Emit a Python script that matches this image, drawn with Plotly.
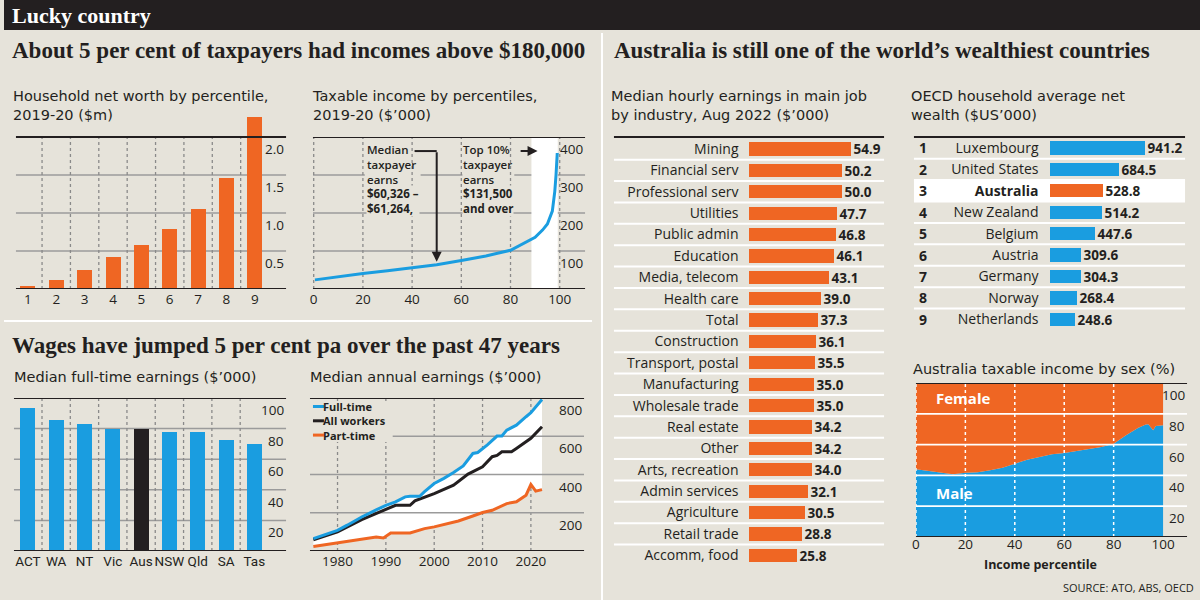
import plotly.graph_objects as go

W, H = 1200, 600
BG = "#e6e3da"
DARK = "#231f20"
ORANGE = "#ef6623"
BLUE = "#1a9de0"
GRID = "#9b9b9b"
WHITE = "#ffffff"
SERIF = "Liberation Serif"
SANS = "Open Sans"
NARROW = "Roboto"
WIDE = "DejaVu Sans"

# ---------------- data ----------------
networth_decile = [1, 2, 3, 4, 5, 6, 7, 8, 9]
networth_m = [0.03, 0.11, 0.25, 0.41, 0.58, 0.79, 1.05, 1.45, 2.26]
networth_ticks = [0.5, 1.0, 1.5, 2.0]

income_pct = [0.5, 10, 20, 30, 40, 50, 60, 70, 80, 85, 90, 93, 95, 97, 98, 98.5, 99]
income_k = [24, 33, 41, 48, 56, 64, 75, 87, 102, 118, 136, 155, 171, 205, 257, 300, 358]
income_ticks = [100, 200, 300, 400]
pct_ticks = [0, 20, 40, 60, 80, 100]

states = ["ACT", "WA", "NT", "Vic", "Aus", "NSW", "Qld", "SA", "Tas"]
fulltime_k = [93.4, 85.8, 83.2, 79.9, 79.6, 78.1, 77.9, 72.6, 70.0]
fulltime_ticks = [20, 40, 60, 80, 100]

ft_years = [1975, 1977, 1980, 1982, 1985, 1988, 1990, 1992, 1994, 1995, 1997, 1998, 2000,
            2002, 2004, 2006, 2008, 2009, 2011, 2013, 2014, 2015, 2017, 2019, 2020, 2022.3]
ft_vals = [65, 82, 108, 135, 178, 215, 239, 257, 283, 286, 286, 310, 353,
           380, 410, 445, 510, 515, 555, 601, 601, 632, 658, 702, 723, 792]
aw_years = [1975, 1980, 1985, 1990, 1992, 1995, 1996, 2000, 2004, 2007, 2010, 2012, 2013,
            2014, 2016, 2017, 2019, 2020, 2022.3]
aw_vals = [59, 100, 164, 217, 239, 239, 262, 300, 344, 402, 440, 493, 500,
           519, 519, 536, 571, 589, 650]
pt_years = [1975, 1980, 1985, 1988, 1989.5, 1991, 1995, 1998, 2000, 2003, 2005, 2008, 2010,
            2012, 2015, 2017, 2019, 2020, 2021, 2022.3]
pt_vals = [24, 42, 59, 73, 68, 94, 94, 117, 126, 147, 157, 183, 201,
           213, 248, 257, 292, 348, 313, 321]
annual_ticks = [200, 400, 600, 800]
year_ticks = [1980, 1990, 2000, 2010, 2020]
series_names = ["Full-time", "All workers", "Part-time"]

industries = ["Mining", "Financial serv", "Professional serv", "Utilities", "Public admin",
              "Education", "Media, telecom", "Health care", "Total", "Construction",
              "Transport, postal", "Manufacturing", "Wholesale trade", "Real estate", "Other",
              "Arts, recreation", "Admin services", "Agriculture", "Retail trade", "Accomm, food"]
hourly = [54.9, 50.2, 50.0, 47.7, 46.8, 46.1, 43.1, 39.0, 37.3, 36.1,
          35.5, 35.0, 35.0, 34.2, 34.2, 34.0, 32.1, 30.5, 28.8, 25.8]

countries = ["Luxembourg", "United States", "Australia", "New Zealand", "Belgium",
             "Austria", "Germany", "Norway", "Netherlands"]
ranks = ["1", "2", "3", "4", "5", "6", "7", "8", "9"]
wealth = [941.2, 684.5, 528.8, 514.2, 447.6, 309.6, 304.3, 268.4, 248.6]

sex_pct = [0, 5, 10, 15, 20, 25, 30, 35, 40, 45, 50, 55, 60, 65, 70, 75, 80, 85, 90, 93, 94, 96, 97, 100]
male_share = [44.0, 42.9, 41.8, 40.7, 41.8, 42.0, 43.3, 45.0, 47.6, 50.2, 52.0, 53.7, 54.5,
              55.6, 57.1, 58.4, 60.6, 66.0, 71.0, 73.0, 73.2, 69.3, 72.0, 72.5]
female_share = [100 - m for m in male_share]
sex_ticks = [20, 40, 60, 80, 100]

# ---------------- helpers ----------------
fig = go.Figure()
shapes, annots = [], []


def refs(n):
    return ("x" if n == 1 else f"x{n}"), ("y" if n == 1 else f"y{n}")


def set_axes(n, xpx, ypx, xr, yr, xkw=None, ykw=None):
    xa, ya = refs(n)
    base = dict(showgrid=False, zeroline=False, showline=False, ticks="", fixedrange=True,
                tickfont=dict(family=SANS, size=13.5, color=DARK))
    xd = dict(base, domain=[xpx[0] / W, xpx[1] / W], range=xr, anchor=ya, showticklabels=False,
              tickangle=0)
    yd = dict(base, domain=[1 - ypx[1] / H, 1 - ypx[0] / H], range=yr, anchor=xa, showticklabels=False)
    xd.update(xkw or {})
    yd.update(ykw or {})
    fig.update_layout(**{("xaxis" if n == 1 else f"xaxis{n}"): xd,
                         ("yaxis" if n == 1 else f"yaxis{n}"): yd})


def line(xref, yref, x0, x1, y0, y1, color, width, dash="solid", layer="below"):
    shapes.append(dict(type="line", xref=xref, yref=yref, x0=x0, x1=x1, y0=y0, y1=y1,
                       line=dict(color=color, width=width, dash=dash), layer=layer))


def rect(xref, yref, x0, x1, y0, y1, color, layer="below"):
    shapes.append(dict(type="rect", xref=xref, yref=yref, x0=x0, x1=x1, y0=y0, y1=y1,
                       fillcolor=color, line=dict(width=0), layer=layer))


def text(x, y, s, size, color=DARK, family=SANS, xanchor="left", weight="normal", **kw):
    dx = -4 if xanchor == "left" else (3 if xanchor == "right" else 0)
    annots.append(dict(xref="paper", yref="paper", x=(x + dx) / W, y=1 - y / H, text=s, showarrow=False,
                       xanchor=xanchor, yanchor="middle", align="left",
                       font=dict(family=family, size=size, color=color, weight=weight), **kw))


def title(x, y, s):
    text(x, y, s, 14.5, family=WIDE, borderpad=0)


def ylabels(n, ticks, fmt, size=13.5):
    xa, ya = refs(n)
    for t in ticks:
        annots.append(dict(xref=f"{xa} domain", yref=ya, x=1, y=t, text=fmt.format(t),
                           showarrow=False, xanchor="right", yanchor="top", yshift=-1,
                           font=dict(family=SANS, size=size, color=DARK)))


def pline(x0, y0, x1, y1, color, width):
    shapes.append(dict(type="line", xref="paper", yref="paper", x0=x0 / W, x1=x1 / W,
                       y0=1 - y0 / H, y1=1 - y1 / H, line=dict(color=color, width=width), layer="above"))


# ---------------- background, header ----------------
shapes.append(dict(type="rect", xref="paper", yref="paper", x0=0, x1=1, y0=1 - 30 / H, y1=1,
                   fillcolor=DARK, line=dict(width=0), layer="below"))
text(10, 16, "<b>Lucky country</b>", 22, color=WHITE, family=SERIF)
text(10, 50, "<b>About 5 per cent of taxpayers had incomes above $180,000</b>", 23, family=SERIF)
text(614, 50, "<b>Australia is still one of the world\u2019s wealthiest countries</b>", 23, family=SERIF)
text(10, 345, "<b>Wages have jumped 5 per cent pa over the past 47 years</b>", 23, family=SERIF)
pline(600, 33, 600, 600, WHITE, 2)
pline(0, 321, 590, 321, WHITE, 2)

# ---------------- chart 1: household net worth ----------------
set_axes(1, (12, 283), (110.4, 289), [0.58, 10.1], [0, 2.35],
         xkw=dict(showticklabels=True, tickvals=networth_decile,
                  ticktext=[str(d) for d in networth_decile]))
for k in range(1, 9):
    line("x", "y", k + 0.5, k + 0.5, 0, 2.0, "#8a8a8a", 1.3, "dot")
for t in networth_ticks[:-1]:
    line("x domain", "y", 0, 1, t, t, GRID, 1.5)
line("x domain", "y", 0, 1, 2.0, 2.0, DARK, 2.2, layer="above")
line("x domain", "y", 0, 1, 0, 0, DARK, 2.2, layer="above")
fig.add_trace(go.Bar(x=networth_decile, y=networth_m, width=0.53, marker=dict(color=ORANGE, line=dict(width=0)),
                     xaxis="x", yaxis="y", showlegend=False, hoverinfo="skip"))
ylabels(1, networth_ticks, "{:.1f}")
title(12, 105, "Household net worth by percentile,<br>2019-20 ($m)")

# ---------------- chart 2: taxable income ----------------
set_axes(2, (310, 583), (137, 289), [-0.3, 110.3], [0, 400],
         xkw=dict(showticklabels=True, tickvals=pct_ticks))
rect("x2", "y2", 88.5, 99.2, 0, 400, WHITE)
for t in pct_ticks:
    line("x2", "y2", t, t, 0, 400, "#8a8a8a", 1.3, "dot")
for t in income_ticks[:-1]:
    line("x2 domain", "y2", 0, 1, t, t, GRID, 1.5)
rect("paper", "paper", 362 / W, 418 / W, 1 - 181 / H, 1 - 169 / H, BG)
rect("paper", "paper", 460 / W, 512 / W, 1 - 181 / H, 1 - 169 / H, BG)
line("x2 domain", "y2", 0, 1, 400, 400, DARK, 2.2, layer="above")
line("x2 domain", "y2", 0, 1, 0, 0, DARK, 2.2, layer="above")
fig.add_trace(go.Scatter(x=income_pct, y=income_k, mode="lines", line=dict(color=BLUE, width=3),
                         xaxis="x2", yaxis="y2", showlegend=False, hoverinfo="skip"))
ylabels(2, income_ticks, "{:d}")
title(312, 105, "Taxable income by percentiles,<br>2019-20 ($\u2019000)")
text(367, 164, "Median<br>taxpayer<br>earns", 11.5, weight=600, borderpad=0)
text(367, 201, "$60,326 \u2013<br>$61,264,", 11.5, weight="bold", borderpad=0, bgcolor=BG)
text(464, 164, "Top 10%<br>taxpayer<br>earns", 11.5, weight=600, borderpad=0)
text(464, 201, "$131,500<br>and over", 11.5, weight="bold", borderpad=0, bgcolor=BG)
line("x2", "y2", 41.0, 50, 363, 363, DARK, 2, layer="above")
annots.append(dict(xref="x2", yref="y2", axref="x2", ayref="y2", x=50, y=72, ax=50, ay=364,
                   text="", showarrow=True, arrowhead=2, arrowsize=1, arrowwidth=2, arrowcolor=DARK))
annots.append(dict(xref="x2", yref="y2", axref="x2", ayref="y2", x=91, y=363, ax=83.5, ay=363,
                   text="", showarrow=True, arrowhead=2, arrowsize=1, arrowwidth=2, arrowcolor=DARK))

# ---------------- chart 3: median full-time earnings ----------------
set_axes(3, (10, 283), (398, 551), [-0.49, 9.12], [0, 100],
         xkw=dict(showticklabels=True, type="category", categoryorder="array", categoryarray=states,
                  tickangle=0, tickfont=dict(family=NARROW, size=13.5, color=DARK)))
for k in range(8):
    line("x3", "y3", k + 0.5, k + 0.5, 0, 100, "#8a8a8a", 1.3, "dot")
for t in fulltime_ticks[:-1]:
    line("x3 domain", "y3", 0, 1, t, t, GRID, 1.5)
line("x3 domain", "y3", 0, 1, 100, 100, DARK, 2.2, layer="above")
line("x3 domain", "y3", 0, 1, 0, 0, DARK, 2.2, layer="above")
fig.add_trace(go.Bar(x=states, y=fulltime_k, width=0.53,
                     marker=dict(color=[DARK if s == "Aus" else BLUE for s in states], line=dict(width=0)),
                     xaxis="x3", yaxis="y3", showlegend=False, hoverinfo="skip"))
ylabels(3, fulltime_ticks, "{:d}")
title(13, 377, "Median full-time earnings ($\u2019000)")

# ---------------- chart 4: median annual earnings ----------------
set_axes(4, (307, 582), (398, 551), [1974.3, 2031], [0, 800],
         xkw=dict(showticklabels=True, tickvals=year_ticks))
for t in year_ticks:
    line("x4", "y4", t, t, 0, 800, "#8a8a8a", 1.3, "dot")
fig.add_trace(go.Scatter(x=pt_years, y=pt_vals, mode="lines", line=dict(width=0, color=ORANGE),
                         xaxis="x4", yaxis="y4", showlegend=False, hoverinfo="skip"))
fig.add_trace(go.Scatter(x=ft_years, y=ft_vals, mode="lines", line=dict(width=0, color=BLUE),
                         fill="tonexty", fillcolor=WHITE,
                         xaxis="x4", yaxis="y4", showlegend=False, hoverinfo="skip"))
for t in annual_ticks[:-1]:
    fig.add_trace(go.Scatter(x=[1974.3, 2031], y=[t, t], mode="lines", line=dict(width=1.5, color=GRID),
                             xaxis="x4", yaxis="y4", showlegend=False, hoverinfo="skip"))
for xs, ys, c in [(pt_years, pt_vals, ORANGE), (aw_years, aw_vals, DARK), (ft_years, ft_vals, BLUE)]:
    fig.add_trace(go.Scatter(x=xs, y=ys, mode="lines", line=dict(width=3, color=c),
                             xaxis="x4", yaxis="y4", showlegend=False, hoverinfo="skip"))
line("x4 domain", "y4", 0, 1, 800, 800, DARK, 2.2, layer="above")
line("x4 domain", "y4", 0, 1, 0, 0, DARK, 2.2, layer="above")
rect("paper", "paper", 307 / W, 390 / W, 1 - 442 / H, 1 - 401 / H, BG, layer="above")
for i, c in enumerate([BLUE, DARK, ORANGE]):
    yy = 406.5 + i * 14.3
    pline(310, yy, 321, yy, c, 3)
text(323, 420.8, "<br>".join(series_names), 11, weight="bold", borderpad=0)
ylabels(4, annual_ticks, "{:d}")
title(310, 377, "Median annual earnings ($\u2019000)")

# ---------------- chart 5: hourly earnings by industry ----------------
set_axes(5, (747, 883), (137, 566), [0, 73.2], [19.5, -0.56],
         ykw=dict(showticklabels=True, type="category", categoryorder="array", categoryarray=industries,
                  tickvals=industries, ticklabelstandoff=9,
                  tickfont=dict(family=SANS, size=14, color=DARK)))
for k in range(len(industries) - 1):
    line("paper", "y5", 612 / W, 883 / W, k + 0.5, k + 0.5, WHITE, 2)
line("paper", "y5 domain", 612 / W, 883 / W, 1, 1, DARK, 2.2, layer="above")
fig.add_trace(go.Bar(y=industries, x=hourly, orientation="h", width=0.62,
                     marker=dict(color=ORANGE, line=dict(width=0)),
                     text=[f"{v:.1f}" for v in hourly], textposition="outside", cliponaxis=False,
                     constraintext="none",
                     textfont=dict(family=SANS, size=13.5, color=DARK, weight="bold"),
                     xaxis="x5", yaxis="y5", showlegend=False, hoverinfo="skip"))
title(612, 106, "Median hourly earnings in main job<br>by industry, Aug 2022 ($\u2019000)")

# ---------------- chart 6: OECD household wealth ----------------
set_axes(6, (1049, 1185), (137, 330), [0, 1347], [8.5, -0.51],
         ykw=dict(showticklabels=True, type="category", categoryorder="array", categoryarray=countries,
                  tickvals=countries,
                  ticktext=[f"<b>{c}</b>" if c == "Australia" else c for c in countries],
                  ticklabelstandoff=10, tickfont=dict(family=SANS, size=14, color=DARK)))
rect("paper", "y6", 913 / W, 1185 / W, 1.5, 2.5, WHITE)
for k in range(len(countries) - 1):
    line("paper", "y6", 913 / W, 1185 / W, k + 0.5, k + 0.5, WHITE, 2)
line("paper", "y6 domain", 913 / W, 1185 / W, 1, 1, DARK, 2.2, layer="above")
fig.add_trace(go.Bar(y=countries, x=wealth, orientation="h", width=0.62,
                     marker=dict(color=[ORANGE if c == "Australia" else BLUE for c in countries],
                                 line=dict(width=0)),
                     text=[f"{v:.1f}" for v in wealth], textposition="outside", cliponaxis=False,
                     constraintext="none",
                     textfont=dict(family=SANS, size=13.5, color=DARK, weight="bold"),
                     xaxis="x6", yaxis="y6", showlegend=False, hoverinfo="skip"))
for r, c in zip(ranks, countries):
    annots.append(dict(xref="paper", yref="y6", x=916 / W, y=c, text=r, showarrow=False,
                       xanchor="left", yanchor="middle",
                       font=dict(family=SANS, size=14, color=DARK, weight="bold")))
title(913, 105, "OECD household average net<br>wealth ($US\u2019000)")

# ---------------- chart 7: taxable income by sex ----------------
set_axes(7, (915, 1187), (383, 537), [0, 109.7], [0, 100],
         xkw=dict(showticklabels=True, tickvals=pct_ticks, ticklabelstandoff=-3))
fig.add_trace(go.Scatter(x=sex_pct, y=male_share, mode="lines", stackgroup="sex",
                         line=dict(width=0, color=BLUE), fillcolor=BLUE,
                         xaxis="x7", yaxis="y7", showlegend=False, hoverinfo="skip"))
fig.add_trace(go.Scatter(x=sex_pct, y=female_share, mode="lines", stackgroup="sex",
                         line=dict(width=0, color=ORANGE), fillcolor=ORANGE,
                         xaxis="x7", yaxis="y7", showlegend=False, hoverinfo="skip"))
for t in sex_ticks[:-1]:
    line("x7 domain", "y7", 0, 1, t, t, WHITE, 1.8, layer="above")
for t in pct_ticks[:-1]:
    line("x7", "y7", t, t, 0, 100, WHITE, 1.5, "dot", layer="above")
line("x7 domain", "y7", 0, 1, 100, 100, DARK, 2.2, layer="above")
line("x7 domain", "y7", 0, 1, 0, 0, DARK, 2.2, layer="above")
ylabels(7, sex_ticks, "{:d}")
text(937, 398, "Female", 15, color=WHITE, weight="bold")
text(937, 493, "Male", 15, color=WHITE, weight="bold")
text(1040, 564, "Income percentile", 12.5, weight="bold", xanchor="center", borderpad=0)
title(915, 369, "Australia taxable income by sex (%)")
text(1193, 587, "SOURCE: ATO, ABS, OECD", 11, xanchor="right")

fig.update_layout(width=W, height=H, margin=dict(l=0, r=0, t=0, b=0),
                  paper_bgcolor=BG, plot_bgcolor="rgba(0,0,0,0)",
                  shapes=shapes, annotations=annots, showlegend=False,
                  font=dict(family=SANS, color=DARK), bargap=0)
fig.write_html("out.html", config=dict(displayModeBar=False))
